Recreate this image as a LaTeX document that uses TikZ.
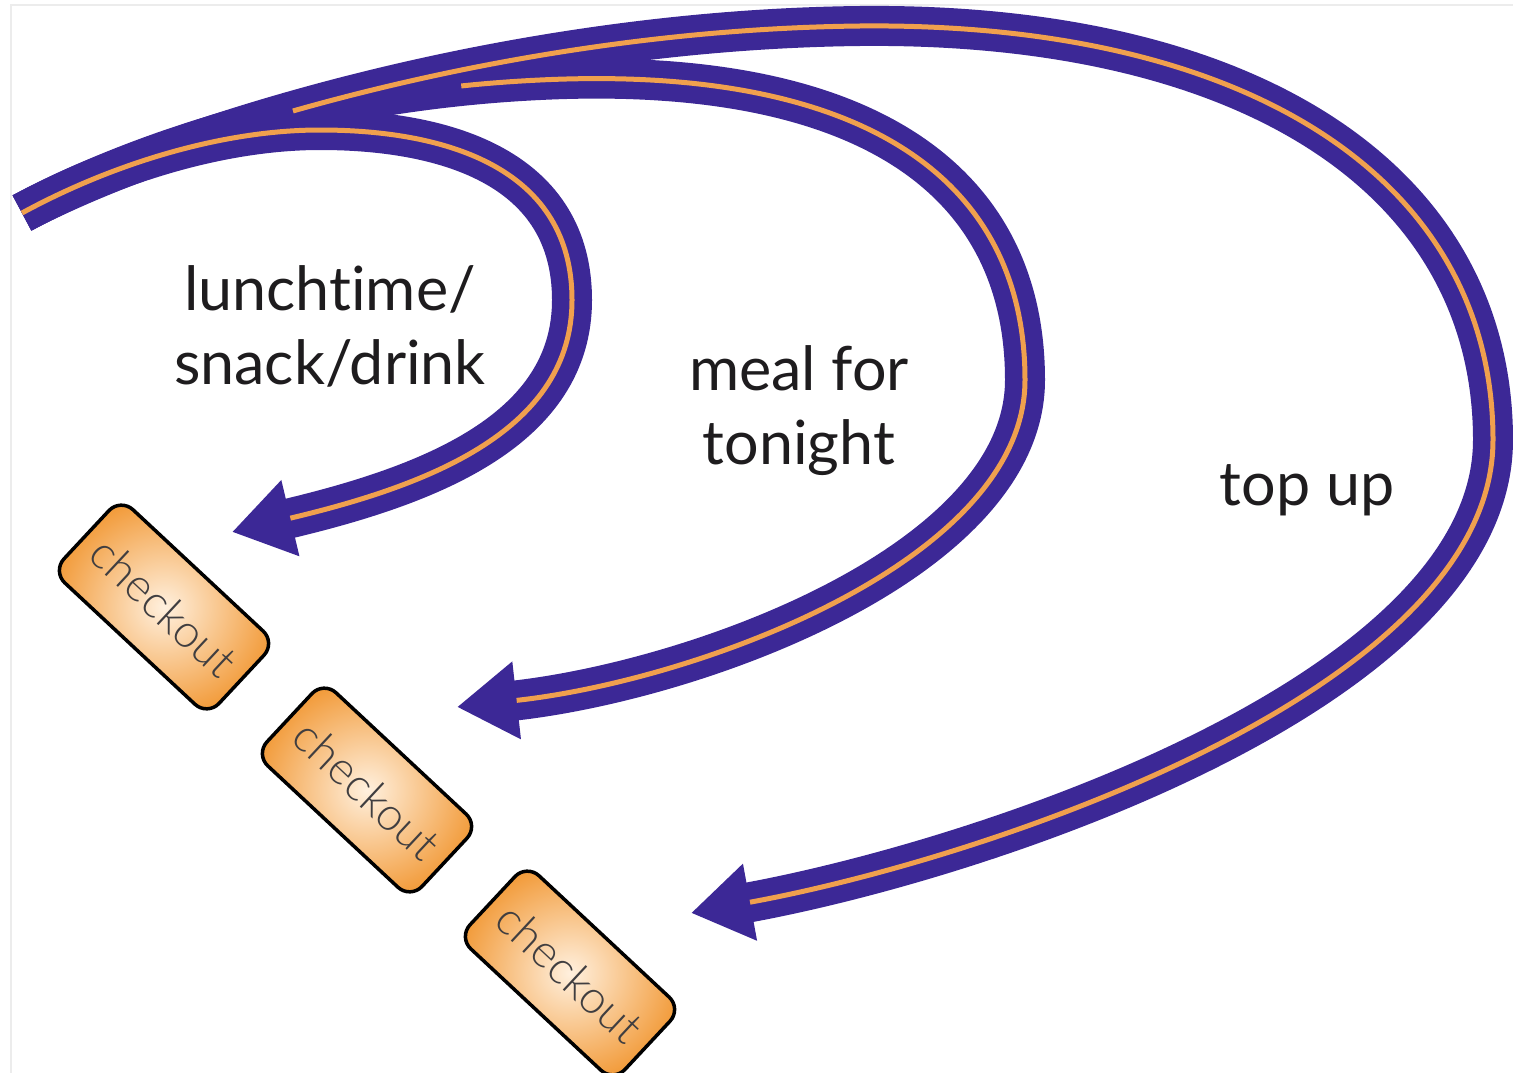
\documentclass[tikz,border=0pt]{standalone}
\usepackage{fontspec}
\setmainfont{Lato}[Ligatures=NoCommon]
\newfontfamily\tillfont{Lato Light}[Ligatures=NoCommon]
\usetikzlibrary{arrows.meta}

\definecolor{road}{RGB}{60,40,150}
\definecolor{lane}{RGB}{240,160,78}
\definecolor{tillorange}{RGB}{242,156,60}
\definecolor{tilllight}{RGB}{255,240,222}
\definecolor{ink}{RGB}{30,28,30}

\begin{document}
\begin{tikzpicture}[x=1pt,y=-1pt,
  roadbed/.style={draw=road, line width=40pt, line join=round,
    -{Triangle[length=60pt,width=74pt]}},
  laneline/.style={draw=lane, line width=5pt, line join=round, shorten >=60pt},
  till/.style={draw=black, line width=3.5pt, rounded corners=17pt,
    minimum width=212pt, minimum height=100pt,
    inner color=tilllight, outer color=tillorange, rotate=-43,
    font=\tillfont\fontsize{46}{48}\selectfont, text=ink!85},
  lbl/.style={font=\fontsize{61}{74}\selectfont, text=ink, align=center}]

\useasboundingbox (0,0) rectangle (1513,1073);
\draw[gray!15, line width=1.2pt] (11,1073) -- (11,5) -- (1513,5);

% entry point of the shared road and the three arrow tips
\coordinate (entry) at (22,213);
\coordinate (tipA) at (232,532);
\coordinate (tipB) at (457,707);
\coordinate (tipC) at (691,913);

% checkouts
\node[till] (tillA) at (164,607) {checkout};
\node[till] (tillB) at (367,790) {checkout};
\node[till] (tillC) at (570,973) {checkout};

% route centre lines
\def\routeA{(entry) .. controls (110,165) and (220,130) .. (320,130)
  .. controls (450,130) and (572,170) .. (572,300)
  .. controls (572,430) and (430,485) .. (tipA)}
\def\routeB{(entry) .. controls (150,145) and (330,90) .. (540,80)
  .. controls (850,65) and (1025,170) .. (1025,380)
  .. controls (1025,560) and (700,680) .. (tipB)}
\def\routeC{(entry) .. controls (160,140) and (500,30) .. (860,26)
  .. controls (1250,22) and (1493,180) .. (1493,440)
  .. controls (1493,690) and (986,859) .. (tipC)}

% purple road beds
\draw[roadbed] \routeC;
\draw[roadbed] \routeB;
\draw[roadbed] \routeA;

% orange centre lines
\draw[laneline] \routeA;
\draw[laneline, dash pattern=on 5000pt off 460pt, dash phase=5000pt] \routeB;
\draw[laneline, dash pattern=on 5000pt off 290pt, dash phase=5000pt] \routeC;

% labels
\node[lbl] (lunch) at (330,326) {lunchtime/\\snack/drink};
\node[lbl] (meal) at (799,411) {meal for\\tonight};
\node[lbl] (topup) at (1307,490) {top up};
\end{tikzpicture}
\end{document}
